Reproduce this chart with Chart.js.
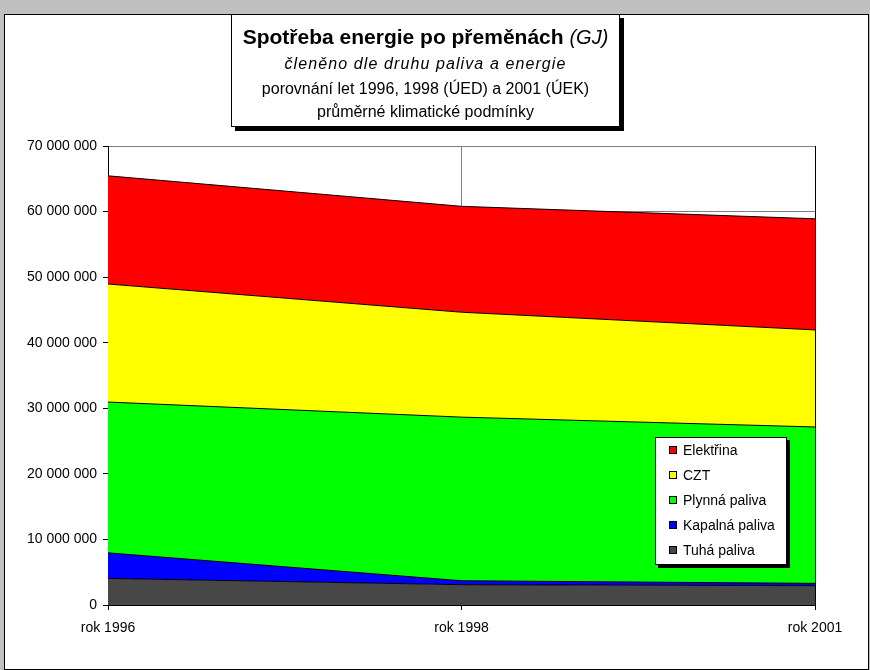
<!DOCTYPE html>
<html lang="cs">
<head>
<meta charset="utf-8">
<script src="https://cdn.jsdelivr.net/npm/chart.js@4/dist/chart.umd.min.js"></script>
<style>
  html, body { margin: 0; padding: 0; }
  body { width: 870px; height: 670px; background: #c0c0c0; position: relative; overflow: hidden;
         font-family: "Liberation Sans", Arial, sans-serif; color: #000; }
  #frame { position: absolute; left: 4px; top: 14px; width: 863px; height: 654px;
           background: #fff; border: 1px solid #000; }
  #chart { position: absolute; left: 0; top: 0; }
  #titlebox { position: absolute; left: 231px; top: 14px; width: 387px; height: 111px;
              background: #fff; border: 1px solid #000; box-shadow: 4px 4px 0 #000;
              text-align: center; z-index: 2; }
  #titlebox div { position: absolute; left: 0; right: 0; white-space: nowrap; }
  #titlebox .t1 { top: 10px; font-size: 21px; font-weight: bold; line-height: 24px; }
  #titlebox .t1 i { font-weight: normal; font-size: 20px; }
  #titlebox .t2 { top: 40px; font-size: 16px; font-style: italic; line-height: 18px; letter-spacing: 1.1px; }
  #titlebox .t3 { top: 65px; font-size: 16px; line-height: 18px; }
  #titlebox .t4 { top: 88px; font-size: 16px; line-height: 18px; }
  #legend { position: absolute; left: 655px; top: 437px; width: 130px; height: 126px;
            background: #fff; border: 1px solid #000; box-shadow: 3px 3px 0 #000; z-index: 2; }
  #legend .item { position: absolute; left: 13px; height: 16px; font-size: 14px; line-height: 16px; white-space: nowrap; }
  #legend .sw { position: absolute; left: 0; top: 4px; width: 6px; height: 6px; border: 1px solid #000; }
  #legend .lbl { position: absolute; left: 14px; top: 0; }
</style>
</head>
<body>
<div id="frame"></div>
<canvas id="chart" width="870" height="670"></canvas>
<div id="titlebox">
  <div class="t1">Spotřeba energie po přeměnách <i>(GJ)</i></div>
  <div class="t2">členěno dle druhu paliva a energie</div>
  <div class="t3">porovnání let 1996, 1998 (ÚED) a 2001 (ÚEK)</div>
  <div class="t4">průměrné klimatické podmínky</div>
</div>
<div id="legend"></div>
<script>
// Years compared
const categories = ['rok 1996', 'rok 1998', 'rok 2001'];

// Energy consumption by fuel type (GJ), stacked bottom to top
const tuhaPaliva    = [4050000, 3100000, 2950000];
const kapalnaPaliva = [3900000, 600000, 350000];
const plynnaPaliva  = [23000000, 24950000, 23850000];
const czt           = [18000000, 16000000, 14800000];
const elektrina     = [16500000, 16150000, 16950000];

// Value axis
const yMin = 0;
const yMax = 70000000;
const yStep = 10000000;

const FONT = '"Liberation Sans", Arial, sans-serif';

function series(label, data, color, fill) {
  return {
    label: label,
    data: data,
    backgroundColor: color,
    borderColor: '#000',
    borderWidth: 1,
    pointRadius: 0,
    pointHoverRadius: 0,
    tension: 0,
    fill: fill
  };
}

const datasets = [
  series('Tuhá paliva', tuhaPaliva, '#474747', 'origin'),
  series('Kapalná paliva', kapalnaPaliva, '#0000ff', '-1'),
  series('Plynná paliva', plynnaPaliva, '#00ff00', '-1'),
  series('CZT', czt, '#ffff00', '-1'),
  series('Elektřina', elektrina, '#ff0000', '-1')
];

function spaced(v) {
  return String(Math.round(v)).replace(/\B(?=(\d{3})+(?!\d))/g, ' ');
}

const chart = new Chart(document.getElementById('chart'), {
  type: 'line',
  data: { labels: categories, datasets: datasets },
  options: {
    responsive: false,
    animation: false,
    devicePixelRatio: 1,
    layout: { padding: { top: 146, right: 55, bottom: 0, left: 0 } },
    plugins: {
      legend: { display: false },
      title: { display: false },
      tooltip: { enabled: false }
    },
    scales: {
      x: {
        offset: false,
        grid: {
          color: (c) => (c.index === categories.length - 1 ? '#000' : '#808080'),
          lineWidth: 1,
          tickLength: 5,
          tickColor: '#000',
          drawOnChartArea: true
        },
        border: { color: '#000', width: 1 },
        ticks: { color: '#000', font: { family: FONT, size: 14 }, padding: 10, maxRotation: 0 },
        afterFit: (s) => { s.height = 65; }
      },
      y: {
        stacked: true,
        min: yMin,
        max: yMax,
        grid: { color: '#808080', lineWidth: 1, tickLength: 5, tickColor: '#000' },
        border: { color: '#000', width: 1 },
        ticks: {
          stepSize: yStep,
          color: '#000',
          font: { family: FONT, size: 14 },
          padding: 6,
          callback: (v) => spaced(v)
        },
        afterFit: (s) => { s.width = 108; }
      }
    }
  }
});

// Legend box, listed top series first
const legendEl = document.getElementById('legend');
const order = chart.data.datasets.map((d, i) => i).reverse();
order.forEach((dsIndex, row) => {
  const ds = chart.data.datasets[dsIndex];
  const item = document.createElement('div');
  item.className = 'item';
  item.style.top = (4 + row * 25) + 'px';
  const sw = document.createElement('span');
  sw.className = 'sw';
  sw.style.background = ds.backgroundColor;
  const lbl = document.createElement('span');
  lbl.className = 'lbl';
  lbl.textContent = ds.label;
  item.appendChild(sw);
  item.appendChild(lbl);
  legendEl.appendChild(item);
});
</script>
</body>
</html>
